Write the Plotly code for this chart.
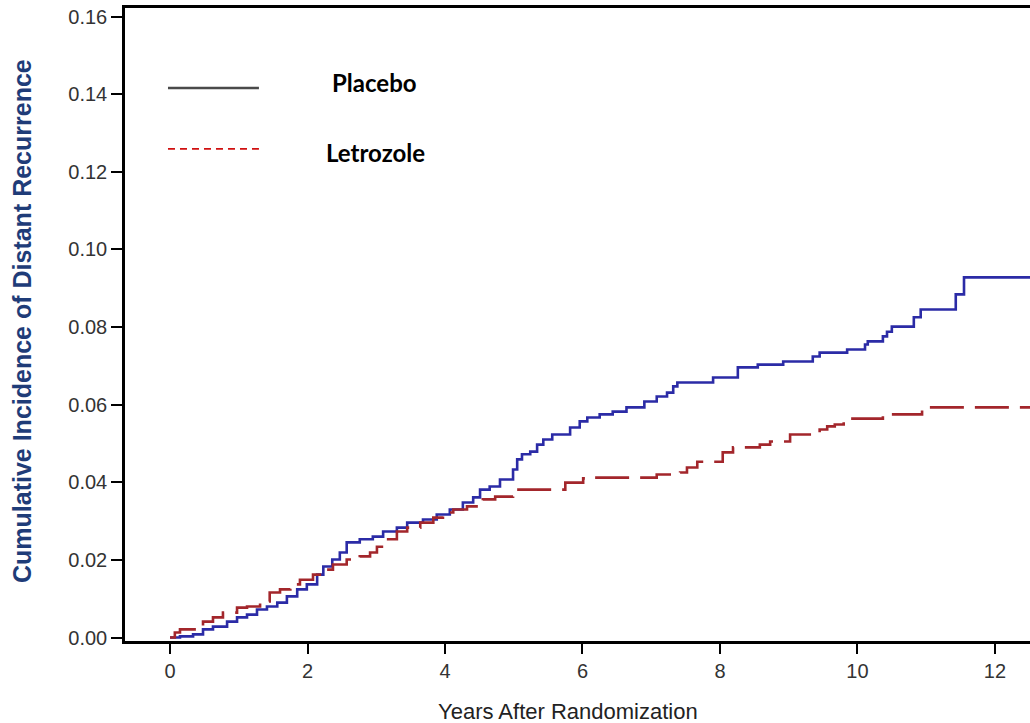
import plotly.graph_objects as go

# ---- data ----
placebo_years = [0.00, 0.145, 0.335, 0.48, 0.625, 0.83, 0.975, 1.12, 1.265, 1.41, 1.56, 1.70, 1.85, 1.99,
                 2.14, 2.23, 2.36, 2.47, 2.57, 2.76, 2.95, 3.10, 3.30, 3.45, 3.68, 3.88, 4.07, 4.26, 4.41,
                 4.51, 4.65, 4.80, 4.99, 5.05, 5.12, 5.24, 5.34, 5.43, 5.56, 5.82, 5.96, 6.07, 6.25, 6.44,
                 6.64, 6.90, 7.08, 7.23, 7.32, 7.38, 7.90, 8.26, 8.55, 8.92, 9.35, 9.45, 9.85, 10.11, 10.15,
                 10.37, 10.43, 10.50, 10.82, 10.92, 11.43, 11.55, 12.70]
placebo_cuminc = [0.0000, 0.0003, 0.0008, 0.0021, 0.0028, 0.0041, 0.0052, 0.0059, 0.0072, 0.0080, 0.0090,
                  0.0106, 0.0124, 0.0137, 0.0162, 0.0183, 0.0201, 0.0219, 0.0245, 0.0253, 0.0260, 0.0273,
                  0.0283, 0.0296, 0.0304, 0.0317, 0.0330, 0.0348, 0.0361, 0.0381, 0.0389, 0.0407, 0.0433,
                  0.0459, 0.0472, 0.0479, 0.0497, 0.0510, 0.0523, 0.0541, 0.0557, 0.0567, 0.0575, 0.0582,
                  0.0593, 0.0608, 0.0621, 0.0631, 0.0647, 0.0657, 0.0670, 0.0696, 0.0703, 0.0711, 0.0724,
                  0.0734, 0.0742, 0.0755, 0.0763, 0.0776, 0.0788, 0.0801, 0.0825, 0.0845, 0.0884, 0.0928,
                  0.0928]

letrozole_years = [0.00, 0.07, 0.145, 0.39, 0.48, 0.625, 0.77, 0.975, 1.12, 1.31, 1.45, 1.60, 1.75, 1.89,
                   2.08, 2.23, 2.37, 2.57, 2.76, 2.91, 3.01, 3.13, 3.30, 3.45, 3.64, 3.83, 3.97, 4.12, 4.32,
                   4.55, 4.73, 4.99, 5.75, 6.01, 6.15, 7.08, 7.42, 7.52, 7.67, 8.04, 8.19, 8.58, 8.73, 9.02,
                   9.35, 9.45, 9.56, 9.67, 9.80, 10.37, 10.94, 12.70]
letrozole_cuminc = [0.0000, 0.0013, 0.0021, 0.0026, 0.0041, 0.0052, 0.0064, 0.0077, 0.0080, 0.0093, 0.0116,
                    0.0124, 0.0137, 0.0149, 0.0162, 0.0175, 0.0188, 0.0201, 0.0209, 0.0219, 0.0234, 0.0253,
                    0.0273, 0.0283, 0.0296, 0.0309, 0.0322, 0.0330, 0.0338, 0.0356, 0.0363, 0.0381, 0.0399,
                    0.0410, 0.0412, 0.0420, 0.0425, 0.0438, 0.0453, 0.0477, 0.0490, 0.0497, 0.0505, 0.0523,
                    0.0528, 0.0536, 0.0544, 0.0549, 0.0564, 0.0575, 0.0593, 0.0593]

x_ticks = [0, 2, 4, 6, 8, 10, 12]
y_ticks = [0.00, 0.02, 0.04, 0.06, 0.08, 0.10, 0.12, 0.14, 0.16]
legend_labels = ["Placebo", "Letrozole"]

BLUE = "#2b2ba6"
RED = "#a3262b"

fig = go.Figure()
fig.add_trace(go.Scatter(x=placebo_years, y=placebo_cuminc, mode="lines", line_shape="hv",
                         line=dict(color=BLUE, width=2.6), name=legend_labels[0], showlegend=False))
fig.add_trace(go.Scatter(x=letrozole_years, y=letrozole_cuminc, mode="lines", line_shape="hv",
                         line=dict(color=RED, width=2.6, dash="34px,11px"), name=legend_labels[1],
                         showlegend=False))

tick_font = dict(family="Liberation Sans, Arial, sans-serif", size=20, color="#333333")

fig.update_layout(
    width=1030, height=723,
    margin=dict(l=125, r=0, t=8, b=82),
    paper_bgcolor="white", plot_bgcolor="white",
    xaxis=dict(range=[-0.655, 12.51], tickvals=x_ticks, ticktext=[str(v) for v in x_ticks],
               showgrid=False, zeroline=False, showline=True, linecolor="black", linewidth=2.5,
               mirror=True, ticks="outside", ticklen=10, tickwidth=2, tickcolor="black",
               tickfont=tick_font),
    yaxis=dict(range=[-0.0009, 0.1622], tickvals=y_ticks, ticktext=[f"{v:.2f}" for v in y_ticks],
               showgrid=False, zeroline=False, showline=True, linecolor="black", linewidth=2.5,
               ticks="outside", ticklen=11, tickwidth=2, tickcolor="black", tickfont=tick_font),
    showlegend=False,
)

# manual legend (swatches + labels) as in the reference
fig.add_shape(type="line", xref="paper", yref="paper", x0=0.0475, x1=0.148, y0=0.8736, y1=0.8736,
              line=dict(color="#4a4a4a", width=2.5))
fig.add_shape(type="line", xref="paper", yref="paper", x0=0.0475, x1=0.148, y0=0.7773, y1=0.7773,
              line=dict(color="#d01010", width=1.8, dash="7px,5px"))
legend_font = dict(family="Lato, Open Sans, sans-serif", size=24, color="black")
fig.add_annotation(xref="paper", yref="paper", x=0.276, y=0.883, text="<b>" + legend_labels[0] + "</b>",
                   showarrow=False, font=legend_font, xanchor="center", yanchor="middle")
fig.add_annotation(xref="paper", yref="paper", x=0.277, y=0.7725, text="<b>" + legend_labels[1] + "</b>",
                   showarrow=False, font=legend_font, xanchor="center", yanchor="middle")

# axis titles
fig.add_annotation(xref="paper", yref="paper", x=-0.1138, y=0.5055,
                   text="<b>Cumulative Incidence of Distant Recurrence</b>", textangle=-90,
                   showarrow=False, xanchor="center", yanchor="middle",
                   font=dict(family="Liberation Sans, Arial, sans-serif", size=25, color="#1f3c78"))
fig.add_annotation(xref="paper", yref="paper", x=0.49, y=-0.112, text="Years After Randomization",
                   showarrow=False, xanchor="center", yanchor="middle",
                   font=dict(family="Liberation Sans, Arial, sans-serif", size=22, color="#222222"))

fig.write_html("out.html")
